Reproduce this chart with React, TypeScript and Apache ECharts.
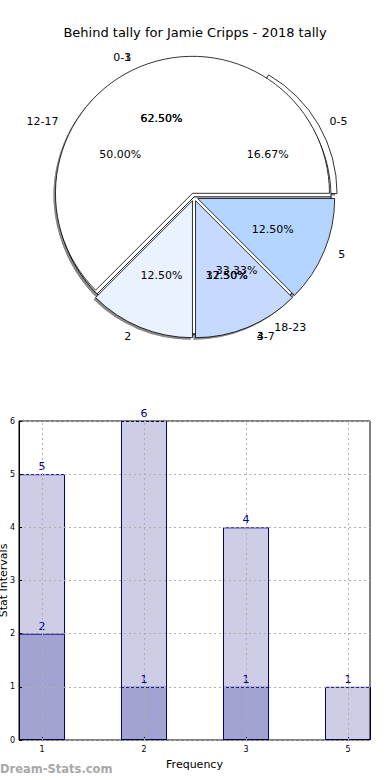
import React, { useEffect, useRef } from "react";
import * as echarts from "echarts";

const TITLE = "Behind tally for Jamie Cripps - 2018 tally";

// Pie A (drawn on top)
const pieANames = ["1", "2", "3", "5"];
const pieAValues = [5, 1, 1, 1];
const pieAColors = ["#ffffff", "#ebf2ff", "#c6d9ff", "#b3d5ff"];
// Pie B
const pieBNames = ["0-3", "4-7"];
const pieBValues = [5, 3];
const pieBColors = ["#ffffff", "#ffffff"];
// Pie C
const pieCNames = ["0-5", "12-17", "18-23"];
const pieCValues = [1, 3, 2];
const pieCColors = ["#ffffff", "#ffffff", "#ffffff"];

// Bar chart
const barCategories = ["1", "2", "3", "5"];
const barTotals = [5, 6, 4, 1];
const barSub = [2, 1, 1];

const FONT = "DejaVu Sans";
const CX = 194;
const CY = 197;
const R = 137;

function basePie(z: number, center: number[]) {
  return {
    type: "pie",
    center,
    startAngle: 0,
    clockwise: false,
    avoidLabelOverlap: false,
    silent: true,
    z,
    emphasis: { disabled: true },
    labelLayout: { hideOverlap: false },
  };
}

function shadowPie(names: string[], values: number[], sel: number[], offset: number) {
  return {
    ...basePie(1, [CX - 2, CY + 2]),
    radius: [0, R],
    selectedMode: "multiple",
    selectedOffset: offset,
    label: { show: false },
    labelLine: { show: false },
    itemStyle: { color: "#8a8a8a", borderWidth: 0, shadowColor: "rgba(0,0,0,0.4)", shadowBlur: 1.5 },
    data: names.map((n, i) => ({ name: n, value: values[i], selected: sel.includes(i) })),
  };
}

function mainPie(names: string[], values: number[], colors: string[], sel: number[], offset: number) {
  return {
    ...basePie(2, [CX, CY]),
    radius: [0, R],
    selectedMode: "multiple",
    selectedOffset: offset,
    label: { show: false },
    labelLine: { show: false },
    itemStyle: { borderColor: "#000", borderWidth: 0.8 },
    data: names.map((n, i) => ({
      name: n,
      value: values[i],
      selected: sel.includes(i),
      itemStyle: { color: colors[i] },
    })),
  };
}

function pctPie(names: string[], values: number[]) {
  return {
    ...basePie(6, [CX, CY]),
    radius: [R * 0.2, R],
    itemStyle: { color: "rgba(0,0,0,0)", borderWidth: 0 },
    labelLine: { show: false },
    label: {
      show: true,
      position: "inside",
      color: "#000",
      fontSize: 11,
      fontFamily: FONT,
      formatter: (p: any) => p.percent.toFixed(2) + "%",
    },
    data: names.map((n, i) => ({ name: n, value: values[i] })),
  };
}

function namePie(names: string[], values: number[]) {
  return {
    ...basePie(6, [CX, CY]),
    radius: [0, R],
    itemStyle: { color: "rgba(0,0,0,0)", borderWidth: 0 },
    labelLine: { show: false, length: R * 0.1, length2: 0 },
    label: {
      show: true,
      position: "outside",
      color: "#000",
      fontSize: 11,
      fontFamily: FONT,
      formatter: "{b}",
    },
    data: names.map((n, i) => ({ name: n, value: values[i] })),
  };
}

const gridLine = { type: [2, 3], color: "#b0b0b0", width: 1 };

export default function App() {
  const ref = useRef<HTMLDivElement>(null);
  useEffect(() => {
    document.body.style.margin = "0";
    const chart = echarts.init(ref.current!, undefined, { renderer: "svg" });
    chart.setOption({
      animation: false,
      textStyle: { fontFamily: FONT },
      title: {
        text: TITLE,
        left: "center",
        top: 21,
        textStyle: { fontSize: 13, fontWeight: "normal", color: "#000", fontFamily: FONT },
      },
      graphic: [
        {
          type: "text",
          left: 0,
          top: 763,
          style: { text: "Dream-Stats.com", fontSize: 11.5, fontWeight: "bold", fill: "#a8a8a8", fontFamily: FONT },
        },
      ],
      grid: [
        {
          left: 19,
          right: 20,
          top: 421,
          bottom: 40,
          show: true,
          borderColor: "#000",
          borderWidth: 1,
          backgroundColor: "rgba(0,0,0,0)",
          z: 3,
          outerBoundsMode: "none",
          containLabel: false,
        },
        { left: -9, right: -9, top: 421, bottom: 40, outerBoundsMode: "none", containLabel: false },
      ],
      xAxis: [
        {
          gridIndex: 0,
          type: "value",
          min: 0,
          max: 1,
          name: "Frequency",
          nameLocation: "middle",
          nameGap: 19,
          nameMoveOverlap: false,
          nameTextStyle: { fontSize: 11, color: "#000", fontFamily: FONT },
          axisLine: { show: false },
          axisTick: { show: false },
          axisLabel: { show: false },
          splitLine: { show: false },
        },
        {
          gridIndex: 1,
          type: "category",
          data: barCategories,
          boundaryGap: true,
          z: 4,
          axisLine: { show: false },
          axisTick: { show: true, inside: true, length: 3, alignWithLabel: true, lineStyle: { color: "#000" } },
          axisLabel: { fontSize: 8, color: "#000", margin: 5 },
          splitLine: { show: false },
        },
      ],
      yAxis: [
        {
          gridIndex: 0,
          type: "value",
          min: 0,
          max: 6,
          interval: 1,
          z: 3,
          name: "Stat Intervals",
          nameLocation: "middle",
          nameGap: 10,
          nameMoveOverlap: false,
          nameRotate: 90,
          nameTextStyle: { fontSize: 11, color: "#000", fontFamily: FONT },
          axisLine: { show: true, onZero: false, lineStyle: { color: "#000" } },
          axisTick: { show: true, inside: true, length: 3, lineStyle: { color: "#000" } },
          axisLabel: { fontSize: 8, color: "#000", margin: 4 },
          splitLine: { show: true, lineStyle: gridLine },
        },
        {
          gridIndex: 1,
          type: "value",
          min: 0,
          max: 6,
          show: false,
        },
      ],
      series: [
        shadowPie(pieCNames, pieCValues, [0], 7),
        shadowPie(pieBNames, pieBValues, [], 0),
        shadowPie(pieANames, pieAValues, [0, 1, 2, 3], 4),
        mainPie(pieCNames, pieCValues, pieCColors, [0], 7),
        mainPie(pieBNames, pieBValues, pieBColors, [], 0),
        mainPie(pieANames, pieAValues, pieAColors, [0, 1, 2, 3], 4),
        pctPie(pieCNames, pieCValues),
        pctPie(pieBNames, pieBValues),
        pctPie(pieANames, pieAValues),
        namePie(pieCNames, pieCValues),
        namePie(pieBNames, pieBValues),
        namePie(pieANames, pieAValues),
        {
          type: "bar",
          xAxisIndex: 1,
          yAxisIndex: 1,
          barWidth: 46,
          barGap: "-100%",
          z: 2,
          itemStyle: { color: "#cdcde5", borderColor: "#00008b", borderWidth: 1 },
          label: { show: true, position: "top", color: "#00008b", fontSize: 11, distance: 2, fontFamily: FONT },
          markLine: {
            silent: true,
            symbol: ["none", "none"],
            label: { show: false },
            emphasis: { disabled: true },
            lineStyle: gridLine,
            data: barCategories.map((c) => ({ xAxis: c })),
          },
          data: barTotals,
        },
        {
          type: "bar",
          xAxisIndex: 1,
          yAxisIndex: 1,
          barWidth: 46,
          barGap: "-100%",
          z: 2,
          itemStyle: { color: "#a3a3d1", borderColor: "#00008b", borderWidth: 1 },
          label: { show: true, position: "top", color: "#00008b", fontSize: 11, distance: 2, fontFamily: FONT },
          data: barSub,
        },
      ],
    });
    return () => chart.dispose();
  }, []);
  return <div ref={ref} style={{ width: 390, height: 780 }} />;
}
